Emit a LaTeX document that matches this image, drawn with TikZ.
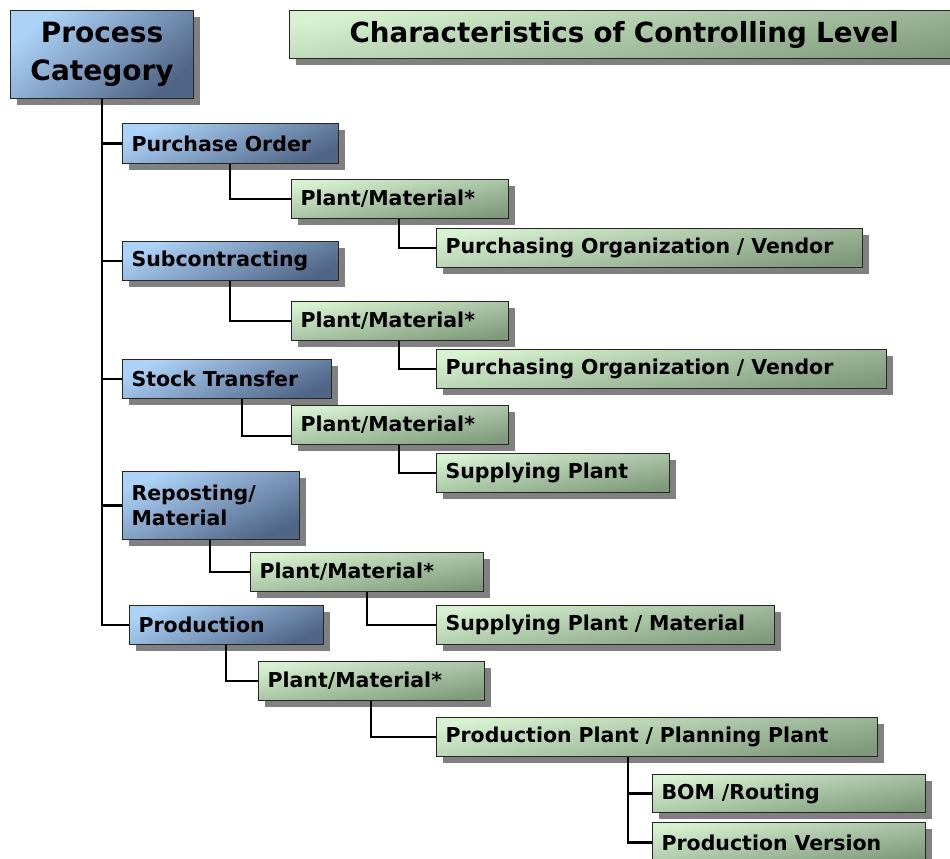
\documentclass[tikz,border=0pt]{standalone}
\usepackage{fontspec}
\setmainfont{DejaVu Sans}
\usetikzlibrary{shadows}
\definecolor{blueL}{RGB}{172,210,248}
\definecolor{blueM}{RGB}{136,174,214}
\definecolor{blueD}{RGB}{80,102,134}
\definecolor{greenL}{RGB}{214,242,208}
\definecolor{greenM}{RGB}{180,210,174}
\definecolor{greenD}{RGB}{126,152,122}
\tikzset{
  base/.style={draw=black!85, line width=1.1pt, anchor=north west,
    drop shadow={shadow xshift=6pt, shadow yshift=-6pt, fill=black!50, opacity=1},
    inner ysep=0pt, inner xsep=9pt, align=left,
    font=\fontsize{20.5}{25}\selectfont\bfseries},
  bluebox/.style={base, top color=blueL, middle color=blueM, bottom color=blueD, shading angle=25},
  greenbox/.style={base, top color=greenL, middle color=greenM, bottom color=greenD, shading angle=10},
  conn/.style={line width=2.4pt, black}
}
\newcommand\bx[7]{%
  \node[#1, minimum width={#5pt-#3pt}, minimum height={#6pt-#4pt},
        text width={#5pt-#3pt-18pt}] (#2) at (#3,#4) {#7};}
\begin{document}
\begin{tikzpicture}[x=1pt,y=-1pt]
\useasboundingbox (0,0) rectangle (950,859);
\clip (0,0) rectangle (950,859);
% title
\node[greenbox, minimum width=680pt, minimum height=48pt, text width=600pt,
      inner xsep=60pt, font=\fontsize{27.7}{32}\selectfont\bfseries] (title) at (289,10)
      {Characteristics of Controlling Level};
% root
\node[bluebox, minimum width=183pt, minimum height=88pt, text width=183pt, inner xsep=0pt,
      align=center, font=\fontsize{28}{38}\selectfont\bfseries, shading angle=40] (pc) at (10,10)
      {Process\\Category};
% blue boxes
\bx{bluebox}{po}{122}{123}{338}{163}{Purchase Order}
\bx{bluebox}{sub}{122}{241}{338}{280}{Subcontracting}
\bx{bluebox}{st}{122}{359}{331}{398}{Stock Transfer}
\bx{bluebox}{rep}{122}{471}{299}{539}{Reposting/\\Material}
\bx{bluebox}{prod}{129}{605}{323}{644}{Production}
% green boxes
\bx{greenbox}{pm1}{291}{179}{508}{218}{Plant/Material*}
\bx{greenbox}{pov1}{436}{228}{862}{267}{Purchasing Organization / Vendor}
\bx{greenbox}{pm2}{291}{301}{508}{340}{Plant/Material*}
\bx{greenbox}{pov2}{436}{349}{886}{388}{Purchasing Organization / Vendor}
\bx{greenbox}{pm3}{291}{405}{508}{444}{Plant/Material*}
\bx{greenbox}{sp}{436}{453}{669}{492}{Supplying Plant}
\bx{greenbox}{pm4}{250}{552}{483}{591}{Plant/Material*}
\bx{greenbox}{spm}{436}{605}{774}{644}{Supplying Plant / Material}
\bx{greenbox}{pm5}{258}{661}{484}{700}{Plant/Material*}
\bx{greenbox}{pppp}{436}{717}{877}{756}{Production Plant / Planning Plant}
\bx{greenbox}{bom}{652}{774}{925}{812}{BOM /Routing}
\bx{greenbox}{pv}{652}{822}{925}{862}{Production Version}
% connectors
\draw[conn] (pc.south) |- (prod.west);
\draw[conn] (pc.south |- po.west) -- (po.west);
\draw[conn] (pc.south |- sub.west) -- (sub.west);
\draw[conn] (pc.south |- st.west) -- (st.west);
\draw[conn] (pc.south |- rep.west) -- (rep.west);
\draw[conn] ([xshift=108pt]po.south west) |- (pm1.west);
\draw[conn] ([xshift=108pt]pm1.south west) |- (pov1.west);
\draw[conn] ([xshift=108pt]sub.south west) |- (pm2.west);
\draw[conn] ([xshift=108pt]pm2.south west) |- (pov2.west);
\draw[conn] ([xshift=120pt]st.south west) |- ([yshift=-11pt]pm3.west);
\draw[conn] ([xshift=108pt]pm3.south west) |- (sp.west);
\draw[conn] ([xshift=88pt]rep.south west) |- (pm4.west);
\draw[conn] ([xshift=117pt]pm4.south west) |- (spm.west);
\draw[conn] ([xshift=97pt]prod.south west) |- (pm5.west);
\draw[conn] ([xshift=113pt]pm5.south west) |- (pppp.west);
\draw[conn] ([xshift=192pt]pppp.south west) |- (bom.west);
\draw[conn] ([xshift=192pt]pppp.south west) |- (pv.west);
\end{tikzpicture}
\end{document}
